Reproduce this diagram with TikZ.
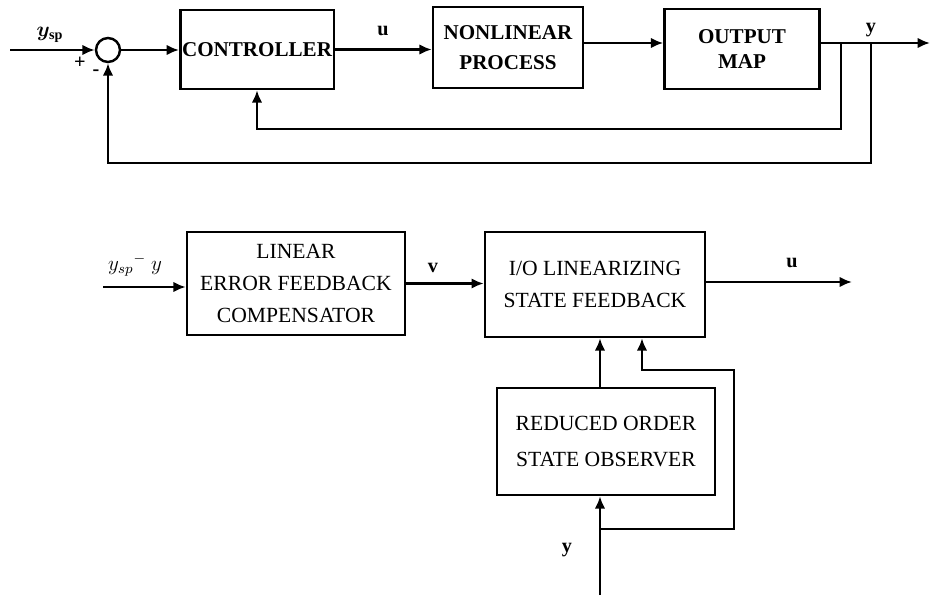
\documentclass[tikz,border=0pt]{standalone}
\usepackage{fontspec}
\setmainfont{Liberation Serif}
\usepackage{bm}
\usetikzlibrary{calc}
\usetikzlibrary{arrows.meta}

\begin{document}
\begin{tikzpicture}[
      x=0.02cm, y=-0.02cm,
      box/.style={draw, align=center, inner sep=1pt},
      topbox/.style={box, font=\fontsize{12}{14.5}\selectfont\bfseries},
      botbox/.style={box, font=\fontsize{12.3}{18}\selectfont},
      sig/.style={font=\fontsize{11.5}{13}\selectfont\bfseries},
      >={Latex[length=7pt,width=6pt]}, line width=1.4pt,
    ]
    \useasboundingbox (0,0) rectangle (932,595);

    % top loop
    \node[draw, circle, minimum size=0.48cm, inner sep=0pt] (sum) at (108,50) {};
    \node[topbox, minimum width=3.02cm, minimum height=1.58cm] (ctrl) at (257,49.5) {CONTROLLER};
    \node[topbox, minimum width=3.0cm, minimum height=1.62cm] (proc) at (508,47.5) {NONLINEAR\\[3pt]PROCESS};
    \node[topbox, minimum width=3.1cm, minimum height=1.6cm] (outm) at (742,49) {OUTPUT\\MAP};

    \coordinate (yin) at (10,50);
    \coordinate (yline) at (0,43);
    \coordinate (yout) at (930,43);
    \coordinate (br1) at (841,43);
    \coordinate (br2) at (871,43);

    \draw[->] (yin) -- (sum.west);
    \draw[->] (sum.east) -- (sum.east -| ctrl.west);
    \draw[->] (ctrl.east) -- (ctrl.east -| proc.west);
    \draw[->] (proc.east |- yline) -- (outm.west |- yline);
    \draw[->] (outm.east |- yline) -- (yout);
    % feedback paths
    \draw[->] (br1) |- ($(ctrl.south)+(0,39)$) -- (ctrl.south);
    \draw[->] (br2) |- ($(sum.south)+(0,100)$) -- (sum.south);

    \node[sig] (lysp) at (50,35) {$\bm{y}_{\mathbf{sp}}$};
    \node[sig] (lplus) at (80,63) {+};
    \node[sig] (lminus) at (96,73) {-};
    \node[sig] (lu) at (383,31) {u};
    \node[sig] (ly) at (871,30) {y};

    % bottom: linearizing controller
    \node[botbox, minimum width=4.36cm, minimum height=2.06cm] (comp) at (296,283.5) {LINEAR\\ERROR FEEDBACK\\COMPENSATOR};
    \node[botbox, minimum width=4.4cm, minimum height=2.1cm] (iolin) at (595,284.5) {I/O LINEARIZING\\STATE FEEDBACK};
    \node[botbox, minimum width=4.36cm, minimum height=2.14cm] (obs) at (606,441.5) {REDUCED ORDER\\[2pt]STATE OBSERVER};

    \coordinate (ein) at (103,287);
    \coordinate (uout) at (852,282);
    \coordinate (ymeas) at (600,595);
    \coordinate (tap) at (600,529);
    \coordinate (tap2) at (642,370);

    \draw[->] (ein) -- (ein -| comp.west);
    \draw[->] (comp.east) -- (comp.east -| iolin.west);
    \draw[->] (iolin.east |- uout) -- (uout);
    \draw[->] (ymeas) -- (ymeas |- obs.south);
    \draw[->] (ymeas |- obs.north) -- (ymeas |- iolin.south);
    \draw[->] (tap) -| ($(obs.east)+(18,0)$) |- (tap2) -- (tap2 |- iolin.south);

    \node[font=\fontsize{11.5}{13}\selectfont] (lerr) at (135,265) {$y_{sp}{}^{-}\ y$};
    \node[sig] (lv) at (433,268) {v};
    \node[sig] (lu2) at (792,263) {u};
    \node[sig] (ly2) at (567,550) {y};
\end{tikzpicture}
\end{document}
